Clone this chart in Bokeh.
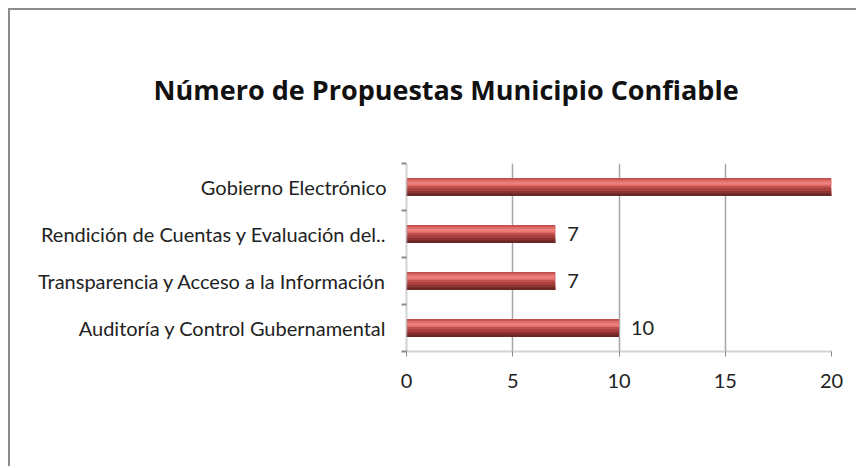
from bokeh.plotting import figure
from bokeh.models import ColumnDataSource, FixedTicker, LabelSet
from bokeh.core.properties import value
from bokeh.embed import file_html
from bokeh.resources import INLINE

# Data (bottom to top)
categories = [
    "Auditoría y Control Gubernamental",
    "Transparencia y Acceso a la Información",
    "Rendición de Cuentas y Evaluación del..",
    "Gobierno Electrónico",
]
values = [10, 7, 7, 20]
x_ticks = [0, 5, 10, 15, 20]
title_text = "Número de Propuestas Municipio Confiable"

FONT = "Lato"
pos = list(range(len(categories)))

p = figure(width=848, height=458, output_backend="svg", toolbar_location=None,
           x_range=(0, 20), y_range=(-0.5, len(categories) - 0.5),
           min_border_left=396, min_border_right=27, min_border_top=153,
           min_border_bottom=117)
p.styles = {"border-top": "2px solid #8c8c8c", "border-left": "2px solid #8c8c8c",
            "margin-left": "8px", "margin-top": "8px"}
p.outline_line_color = None
p.background_fill_color = "white"
p.border_fill_color = "white"

# Title
p.title.text = title_text
p.title.align = "left"
p.title.offset = -253
p.title.standoff = 111
p.title.text_font = "Open Sans"
p.title.text_font_size = "27px"
p.title.text_font_style = "bold"
p.title.text_color = "#111111"

# Bars with a layered "cylinder" shading
H = 0.38
src = ColumnDataSource(dict(y=pos, v=values, lbl=[str(v) for v in values]))
layers = [
    (0.0, 1.0, "#c0504d"),
    (0.10, 0.45, "#e06a67"),
    (0.20, 0.38, "#ec7f7c"),
    (0.55, 1.0, "#a9403d"),
    (0.72, 1.0, "#8a3330"),
    (0.87, 1.0, "#6a2725"),
]
for a, b, c in layers:
    h = H * (b - a)
    off = H / 2 - H * a - h / 2
    ys = [y + off for y in pos]
    p.hbar(y=ys, left=0, right=values, height=h, color=c, line_color=None)

# Value labels
labels = LabelSet(x="v", y="y", text="lbl", source=src, x_offset=12,
                  text_baseline="middle", text_align="left",
                  text_font=value(FONT), text_font_size="20px", text_color="#222222")
p.add_layout(labels)

# Grid
p.ygrid.grid_line_color = None
p.xgrid.ticker = FixedTicker(ticks=x_ticks)
p.xgrid.grid_line_color = "#a6a6a6"
p.xgrid.grid_line_width = 1.5

# X axis
p.xaxis.ticker = FixedTicker(ticks=x_ticks)
p.xaxis.axis_line_color = "#a6a6a6"
p.xaxis.axis_line_dash = "1 1"
p.xaxis.axis_line_width = 2
p.xaxis.major_tick_line_color = "#8c8c8c"
p.xaxis.major_tick_out = 5
p.xaxis.major_tick_in = 0
p.xaxis.minor_tick_line_color = None
p.xaxis.major_label_standoff = 17
p.xaxis.major_label_text_font = FONT
p.xaxis.major_label_text_font_size = "20px"
p.xaxis.major_label_text_color = "#222222"

# Y axis
p.yaxis.ticker = FixedTicker(ticks=pos, minor_ticks=[i - 0.5 for i in range(len(pos) + 1)])
p.yaxis.major_label_overrides = {i: c for i, c in zip(pos, categories)}
p.yaxis.axis_line_color = "#a6a6a6"
p.yaxis.axis_line_dash = "1 1"
p.yaxis.axis_line_width = 2
p.yaxis.major_tick_line_color = None
p.yaxis.minor_tick_line_color = "#8c8c8c"
p.yaxis.minor_tick_out = 5
p.yaxis.minor_tick_in = 0
p.yaxis.minor_tick_line_width = 2
p.yaxis.major_label_standoff = 14
p.yaxis.major_label_text_font = FONT
p.yaxis.major_label_text_font_size = "20px"
p.yaxis.major_label_text_color = "#222222"

open("out.html", "w").write(file_html(p, INLINE))
